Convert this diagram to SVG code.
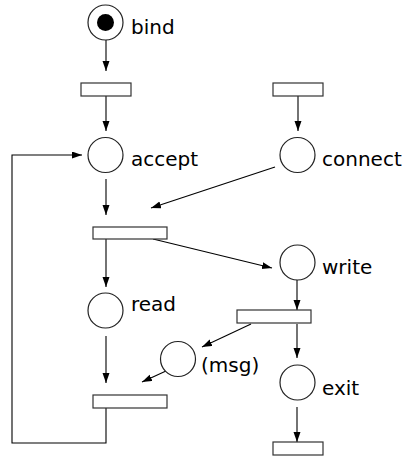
<svg xmlns="http://www.w3.org/2000/svg" width="408" height="457" viewBox="0 0 408 457">
<style>
.place{fill:#fff;stroke:#222;stroke-width:1.2}
.trans{fill:#fff;stroke:#333;stroke-width:1.2}
.lbl{font-family:"DejaVu Sans",sans-serif;font-size:20px;fill:#000}
.arc{fill:none;stroke:#000;stroke-width:1.1}
</style>
<defs>
<marker id="ah" markerUnits="userSpaceOnUse" markerWidth="11" markerHeight="8" refX="10" refY="3.5" orient="auto">
<path d="M0,0 L10,3.5 L0,7 z" fill="#000"/>
</marker>
</defs>
<g id="connectors">
<line class="arc" x1="106" y1="40" x2="106" y2="71" marker-end="url(#ah)"/>
<line class="arc" x1="106" y1="96" x2="106" y2="131" marker-end="url(#ah)"/>
<line class="arc" x1="298" y1="96" x2="298" y2="131" marker-end="url(#ah)"/>
<line class="arc" x1="106" y1="179" x2="106" y2="215" marker-end="url(#ah)"/>
<line class="arc" x1="275" y1="167" x2="151" y2="208" marker-end="url(#ah)"/>
<line class="arc" x1="153" y1="239" x2="272" y2="268" marker-end="url(#ah)"/>
<line class="arc" x1="106" y1="239" x2="106" y2="287" marker-end="url(#ah)"/>
<line class="arc" x1="106" y1="336" x2="106" y2="383" marker-end="url(#ah)"/>
<line class="arc" x1="297" y1="279" x2="297" y2="310" marker-end="url(#ah)"/>
<line class="arc" x1="251" y1="324" x2="202" y2="347" marker-end="url(#ah)"/>
<line class="arc" x1="166" y1="371" x2="142" y2="382" marker-end="url(#ah)"/>
<line class="arc" x1="297" y1="324" x2="297" y2="358" marker-end="url(#ah)"/>
<line class="arc" x1="297" y1="407" x2="297" y2="442" marker-end="url(#ah)"/>
<polyline class="arc" points="106,408 106,443 12,443 12,155 82,155" marker-end="url(#ah)"/>
</g>
<g id="bind">
<circle class="place" cx="105.5" cy="22.5" r="17.5"/>
<circle cx="105.5" cy="22.5" r="8.5" fill="#000"/>
<text class="lbl" x="131" y="34">bind</text>
</g>
<g id="t1"><rect class="trans" x="81" y="83" width="50" height="13"/></g>
<g id="t2"><rect class="trans" x="273" y="83" width="50" height="13"/></g>
<g id="accept">
<circle class="place" cx="105.5" cy="155" r="17.5"/>
<text class="lbl" x="131" y="166">accept</text>
</g>
<g id="connect">
<circle class="place" cx="297.5" cy="155" r="17.5"/>
<text class="lbl" x="322" y="166">connect</text>
</g>
<g id="t3"><rect class="trans" x="93" y="227" width="74" height="12"/></g>
<g id="write">
<circle class="place" cx="297.5" cy="262.5" r="17.5"/>
<text class="lbl" x="322" y="274">write</text>
</g>
<g id="read">
<circle class="place" cx="105.5" cy="310.5" r="17.5"/>
<text class="lbl" x="131" y="311">read</text>
</g>
<g id="t4"><rect class="trans" x="237" y="310" width="74" height="13"/></g>
<g id="msg">
<circle class="place" cx="178" cy="359" r="17.5"/>
<text class="lbl" x="201" y="372">(msg)</text>
</g>
<g id="exit">
<circle class="place" cx="297.5" cy="382.5" r="17.5"/>
<text class="lbl" x="322" y="395">exit</text>
</g>
<g id="t5"><rect class="trans" x="93" y="395" width="74" height="13"/></g>
<g id="t6"><rect class="trans" x="273" y="442" width="50" height="13"/></g>
</svg>
